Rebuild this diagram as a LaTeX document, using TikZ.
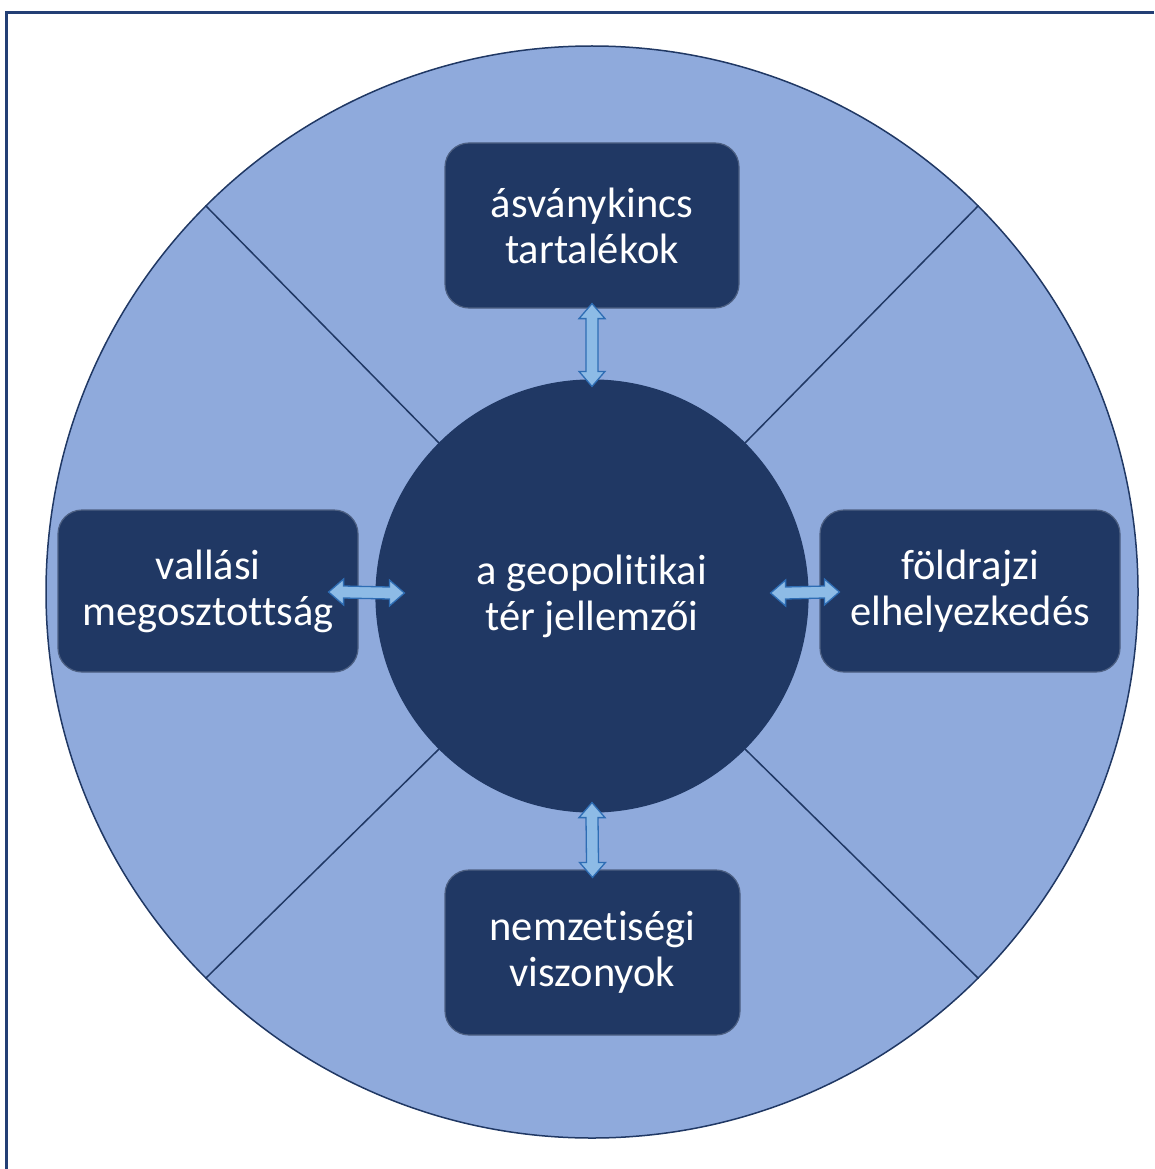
\documentclass[tikz,border=0pt]{standalone}
\usepackage{fontspec}
\setmainfont[Ligatures=NoCommon]{Carlito}
\usetikzlibrary{calc}
\definecolor{navy}{HTML}{203864}
\definecolor{lightbg}{HTML}{8FAADC}
\definecolor{arrfill}{HTML}{8DBBE6}
\definecolor{arrline}{HTML}{2E6DB4}
\definecolor{frame}{HTML}{233F75}
\tikzset{
  boxnode/.style={draw=navy!80!white, line width=1.2pt, fill=navy, rounded corners=24pt,
    text=white, align=center, font=\fontsize{42.5}{46}\selectfont, inner sep=0pt},
  arr/.style={draw=arrline, fill=arrfill, line width=1.3pt, line join=miter},
  divline/.style={draw=navy, line width=1.5pt}
}
\begin{document}
\begin{tikzpicture}[x=1pt,y=-1pt]
\useasboundingbox (0,0) rectangle (1154,1169);
\draw[frame, line width=2.6pt] (6.5,1169) -- (6.5,12.5) -- (1154,12.5);
\node[circle, draw=navy, line width=1.5pt, fill=lightbg, minimum size=1092pt, inner sep=0pt] (outer) at (592,592) {};
\node[circle, draw=navy, line width=1.2pt, fill=navy, minimum size=432pt, inner sep=0pt,
  text=white, align=center, font=\fontsize{42.5}{46}\selectfont] (inner) at (592,596) {a geopolitikai\\tér jellemzői};
\draw[divline] (outer.45) -- (inner.45);
\draw[divline] (outer.135) -- (inner.135);
\draw[divline] (outer.225) -- (inner.225);
\draw[divline] (outer.315) -- (inner.315);
\node[boxnode, minimum width=294pt, minimum height=165pt] (top) at (592,225.5) {ásványkincs\\tartalékok};
\node[boxnode, minimum width=300pt, minimum height=162pt] (left) at (208,591) {vallási\\megosztottság};
\node[boxnode, minimum width=300pt, minimum height=162pt] (right) at (970,591) {földrajzi\\elhelyezkedés};
\node[boxnode, minimum width=295pt, minimum height=165pt] (bottom) at (592.5,952.5) {nemzetiségi\\viszonyok};
% vertical arrows
\coordinate (t1) at ($(top.south)+(0,-5)$);
\coordinate (b1) at ($(inner.north)+(0,7)$);
\draw[arr] (t1) -- ++(13,15) -- ++(-7,0) -- ($(b1)+(6,-15)$) -- ++(7,0) -- (b1) -- ++(-13,-15) -- ++(7,0) -- ($(t1)+(-6,15)$) -- ++(-7,0) -- cycle;
\coordinate (t2) at ($(inner.south)+(0,-10)$);
\coordinate (b2) at ($(bottom.north)+(0,8)$);
\draw[arr] (t2) -- ++(13,15) -- ++(-7,0) -- ($(b2)+(6,-15)$) -- ++(7,0) -- (b2) -- ++(-13,-15) -- ++(7,0) -- ($(t2)+(-6,15)$) -- ++(-7,0) -- cycle;
% horizontal arrows
\coordinate (l1) at ($(left.east)+(-30,1)$);
\coordinate (r1) at ($(inner.west)+(29,-3)$);
\draw[arr] (l1) -- ++(15,-13) -- ++(0,7) -- ($(r1)+(-15,-6)$) -- ++(0,-7) -- (r1) -- ++(-15,13) -- ++(0,-7) -- ($(l1)+(15,6)$) -- ++(0,7) -- cycle;
\coordinate (l2) at ($(inner.east)+(-38,-3)$);
\coordinate (r2) at ($(right.west)+(20,1)$);
\draw[arr] (l2) -- ++(15,-13) -- ++(0,7) -- ($(r2)+(-15,-6)$) -- ++(0,-7) -- (r2) -- ++(-15,13) -- ++(0,-7) -- ($(l2)+(15,6)$) -- ++(0,7) -- cycle;
\end{tikzpicture}
\end{document}
